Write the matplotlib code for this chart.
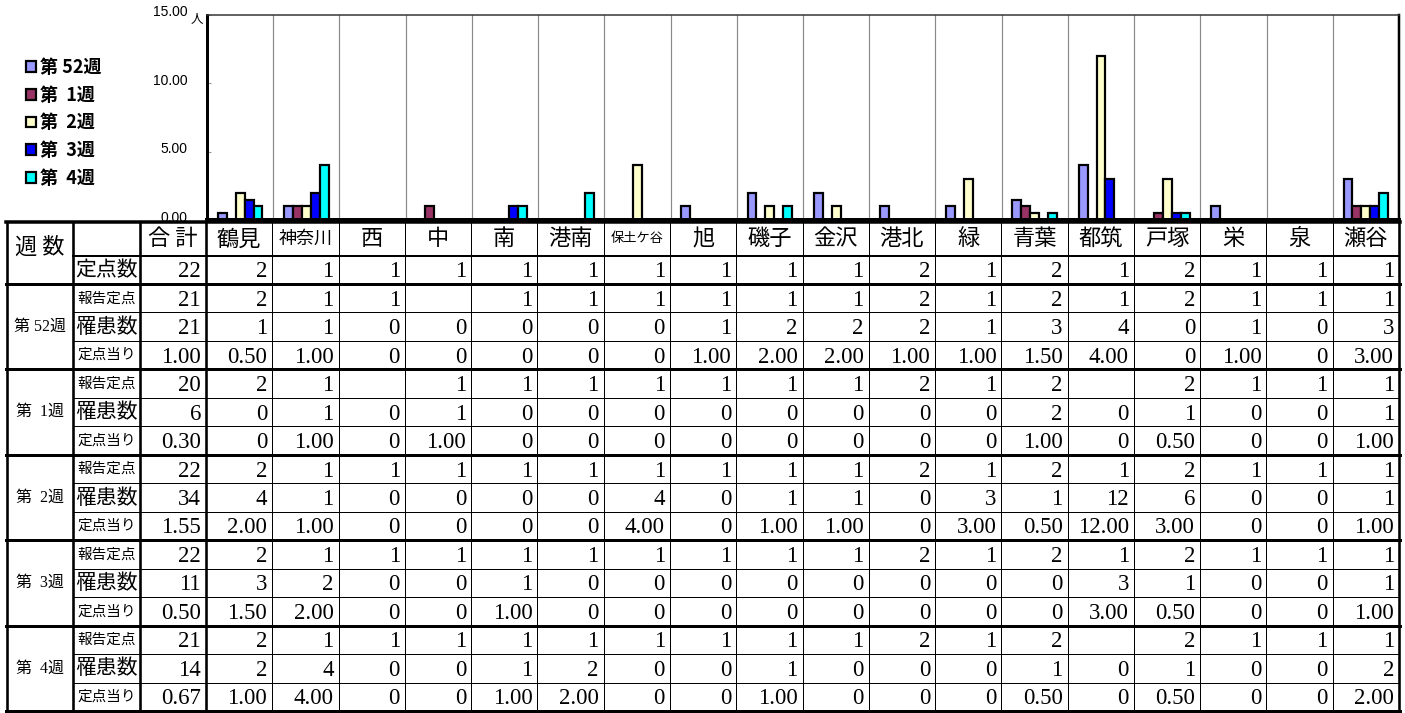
import matplotlib
matplotlib.use("Agg")
import matplotlib.pyplot as plt
import matplotlib.transforms as mtransforms
import numpy as np

plt.rcParams['font.family'] = ['Noto Sans CJK JP', 'DejaVu Sans']

wards = ['鶴見', '神奈川', '西', '中', '南', '港南', '保土ケ谷', '旭', '磯子',
         '金沢', '港北', '緑', '青葉', '都筑', '戸塚', '栄', '泉', '瀬谷']
week_labels = ['第 52週', '第  1週', '第  2週', '第  3週', '第  4週']
week_colors = ['#9999FF', '#993366', '#FFFFCC', '#0000FF', '#00FFFF']

sites_total = 22
sites = [2, 1, 1, 1, 1, 1, 1, 1, 1, 1, 2, 1, 2, 1, 2, 1, 1, 1]

reported_total = [21, 20, 22, 22, 21]
patients_total = [21, 6, 34, 11, 14]
rate_total = [1.00, 0.30, 1.55, 0.50, 0.67]

reported = [
    [2, 1, 1, None, 1, 1, 1, 1, 1, 1, 2, 1, 2, 1, 2, 1, 1, 1],
    [2, 1, None, 1, 1, 1, 1, 1, 1, 1, 2, 1, 2, None, 2, 1, 1, 1],
    [2, 1, 1, 1, 1, 1, 1, 1, 1, 1, 2, 1, 2, 1, 2, 1, 1, 1],
    [2, 1, 1, 1, 1, 1, 1, 1, 1, 1, 2, 1, 2, 1, 2, 1, 1, 1],
    [2, 1, 1, 1, 1, 1, 1, 1, 1, 1, 2, 1, 2, None, 2, 1, 1, 1],
]
patients = [
    [1, 1, 0, 0, 0, 0, 0, 1, 2, 2, 2, 1, 3, 4, 0, 1, 0, 3],
    [0, 1, 0, 1, 0, 0, 0, 0, 0, 0, 0, 0, 2, 0, 1, 0, 0, 1],
    [4, 1, 0, 0, 0, 0, 4, 0, 1, 1, 0, 3, 1, 12, 6, 0, 0, 1],
    [3, 2, 0, 0, 1, 0, 0, 0, 0, 0, 0, 0, 0, 3, 1, 0, 0, 1],
    [2, 4, 0, 0, 1, 2, 0, 0, 1, 0, 0, 0, 1, 0, 1, 0, 0, 2],
]
rates = [
    [0.5, 1, 0, 0, 0, 0, 0, 1, 2, 2, 1, 1, 1.5, 4, 0, 1, 0, 3],
    [0, 1, 0, 1, 0, 0, 0, 0, 0, 0, 0, 0, 1, 0, 0.5, 0, 0, 1],
    [2, 1, 0, 0, 0, 0, 4, 0, 1, 1, 0, 3, 0.5, 12, 3, 0, 0, 1],
    [1.5, 2, 0, 0, 1, 0, 0, 0, 0, 0, 0, 0, 0, 3, 0.5, 0, 0, 1],
    [1, 4, 0, 0, 1, 2, 0, 0, 1, 0, 0, 0, 0.5, 0, 0.5, 0, 0, 2],
]


def fmt_int(v):
    return '' if v is None else str(v)


def fmt_rate(v):
    return '0' if v == 0 else f'{v:.2f}'


W, H = 1405, 713
PX = 0.72  # points per pixel at dpi 100
fig = plt.figure(figsize=(W / 100, H / 100), dpi=100)

# pixel canvas for the table part
cv = fig.add_axes([0, 0, 1, 1])
cv.set_xlim(0, W)
cv.set_ylim(H, 0)
cv.axis('off')

# ---- bar chart ----
left, right, top, bottom = 207, 1399, 15, 220
ax = fig.add_axes([left / W, 1 - bottom / H, (right - left) / W, (bottom - top) / H])
x = np.arange(len(wards))
bw = 0.135
for i, (lab, vals, c) in enumerate(zip(week_labels, rates, week_colors)):
    ax.bar(x + (i - 2) * bw, vals, bw, color=c, edgecolor='black',
           linewidth=2.2 * PX, label=lab, zorder=2)
for k in range(1, len(wards)):
    ax.axvline(k - 0.5, color='#8a8a8a', lw=1.2 * PX, zorder=1)
ax.set_xlim(-0.5, len(wards) - 0.5)
ax.set_ylim(0, 15)
ax.set_xticks([])
ax.set_yticks([0, 5, 10, 15])
ax.set_yticklabels([f'{v:.2f}' for v in [0, 5, 10, 15]], fontfamily='Liberation Sans', fontsize=10)
ax.tick_params(axis='y', direction='in', length=3, width=0.8, color='#999999', pad=14)
# labels sit a little above their ticks, as in the original
shift = mtransforms.ScaledTranslation(0, 4 / 100, fig.dpi_scale_trans)
for lab in ax.get_yticklabels():
    lab.set_transform(lab.get_transform() + shift)
ax.spines['left'].set_linewidth(3 * PX)
ax.spines['bottom'].set_linewidth(4 * PX)
ax.spines['right'].set_linewidth(2.5 * PX)
ax.spines['top'].set_linewidth(1.5 * PX)
ax.spines['top'].set_color('#333333')
for s in ax.spines.values():
    s.set_zorder(5)
cv.text(197, 19, '人', fontsize=9, ha='center', va='center')

ax.legend(loc='upper left', bbox_to_anchor=(26 / W, 1 - 58 / H), bbox_transform=fig.transFigure,
          frameon=False, prop={'size': 13, 'weight': 'bold'}, handlelength=0.55, handleheight=0.55,
          handletextpad=0.25, labelspacing=0.48, borderpad=0, borderaxespad=0)

# ---- table ----
cw = (1399 - 206) / len(wards)
col_edges = [7, 72.7, 140, 206] + [206 + cw * (k + 1) for k in range(len(wards))]
y_top, y_head, y_sites = 222, 255.7, 284
rh = (711 - y_sites) / 15
row_edges = [y_sites + rh * k for k in range(16)]
x_right = col_edges[-1]

# vertical lines
for i, xe in enumerate(col_edges):
    lw = 2.6 if (i <= 3 or i == len(col_edges) - 1) else 1.0
    cv.plot([xe, xe], [y_top, row_edges[-1]], color='black', lw=lw * PX, solid_capstyle='butt')
# horizontal lines
cv.plot([col_edges[0] - 1, x_right + 1], [y_top, y_top], color='black', lw=3.5 * PX)
cv.plot([col_edges[1], x_right], [y_head, y_head], color='black', lw=2 * PX)
for k, ye in enumerate(row_edges):
    if k % 3 == 0:
        cv.plot([col_edges[0] - 1, x_right + 1], [ye, ye], color='black', lw=3 * PX)
    else:
        cv.plot([col_edges[1], x_right], [ye, ye], color='black', lw=1 * PX)

num_font = dict(fontfamily='Liberation Serif', fontsize=16.5)
pad = 5


def put_num(col, y0, y1, s):
    cv.text(col_edges[col + 1] - pad, (y0 + y1) / 2 + 7.5, s, ha='right', va='baseline', **num_font)


def put_label(col, y0, y1, s, size):
    cv.text((col_edges[col] + col_edges[col + 1]) / 2, (y0 + y1) / 2, s,
            ha='center', va='center', fontsize=size)


# header
cv.text((col_edges[0] + col_edges[1]) / 2, 247, '週 数', ha='center', va='center', fontsize=16)
put_label(2, y_top, y_head, '合 計', 16)
for j, w in enumerate(wards):
    size = 16
    if len(w) == 3:
        size = 13
    elif len(w) == 4:
        size = 9.5
    put_label(3 + j, y_top, y_head, w, size)

# sites row
put_label(1, y_head, y_sites, '定点数', 15)
put_num(2, y_head, y_sites, str(sites_total))
for j, v in enumerate(sites):
    put_num(3 + j, y_head, y_sites, str(v))

row_names = [('報告定点', 10.5), ('罹患数', 15), ('定点当り', 10.5)]
for g in range(len(week_labels)):
    r0 = g * 3
    cv.text((col_edges[0] + col_edges[1]) / 2, (row_edges[r0] + row_edges[r0 + 3]) / 2, week_labels[g],
            ha='center', va='center', fontsize=11.5, family=['Liberation Serif', 'Noto Sans CJK JP'])
    rows = [
        [fmt_int(reported_total[g])] + [fmt_int(v) for v in reported[g]],
        [fmt_int(patients_total[g])] + [fmt_int(v) for v in patients[g]],
        [fmt_rate(rate_total[g])] + [fmt_rate(v) for v in rates[g]],
    ]
    for r in range(3):
        y0, y1 = row_edges[r0 + r], row_edges[r0 + r + 1]
        name, size = row_names[r]
        put_label(1, y0, y1, name, size)
        for j, s in enumerate(rows[r]):
            put_num(2 + j, y0, y1, s)

fig.savefig('out.png', dpi=100)
